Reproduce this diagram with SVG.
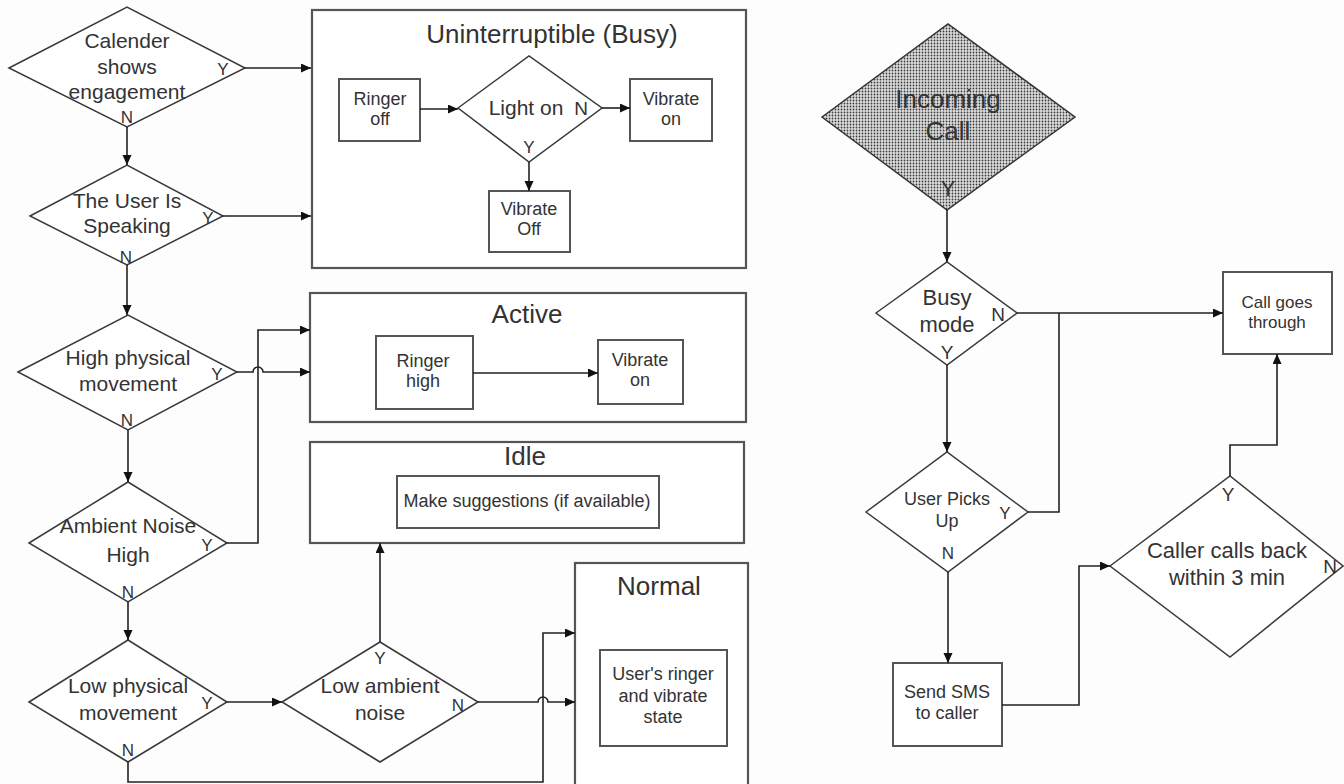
<svg xmlns="http://www.w3.org/2000/svg" width="1344" height="784" viewBox="0 0 1344 784">
  <style>
    text { font-family: "Liberation Sans", Arial, sans-serif; fill: #333; text-anchor: middle; }
    .dt { font-size: 21px; }
    .bt { font-size: 18px; }
    .title { font-size: 26px; }
    .yn { font-size: 17px; }
    .dia { fill: #fff; stroke: #3a3a3a; stroke-width: 1.5; }
    .box { fill: #fff; stroke: #555; stroke-width: 2; }
    .state { fill: #fff; stroke: #555; stroke-width: 2.2; }
    .conn path { fill: none; stroke: #222; stroke-width: 1.6; }
    .arr { marker-end: url(#head); }
  </style>
  <defs>
    <marker id="head" markerUnits="userSpaceOnUse" markerWidth="11" markerHeight="10" refX="10" refY="4.5" orient="auto">
      <path d="M0,0 L10,4.5 L0,9 z" fill="#111"/>
    </marker>
    <pattern id="dots" width="3" height="3" patternUnits="userSpaceOnUse">
      <rect width="3" height="3" fill="#dedede"/>
      <circle cx="1.5" cy="1.5" r="0.9" fill="#3a3a3a"/>
    </pattern>
  </defs>
  <rect width="1344" height="784" fill="#fdfdfd"/>

  <!-- state containers -->
  <g id="state-busy">
    <rect class="state" x="312" y="10" width="434" height="258"/>
    <text class="title" x="552" y="43">Uninterruptible (Busy)</text>
  </g>
  <g id="state-active">
    <rect class="state" x="310" y="293" width="436" height="129"/>
    <text class="title" x="527" y="323">Active</text>
  </g>
  <g id="state-idle">
    <rect class="state" x="310" y="442" width="434" height="101"/>
    <text class="title" x="525" y="465">Idle</text>
  </g>
  <g id="state-normal">
    <rect class="state" x="575" y="563" width="173" height="240"/>
    <text class="title" x="659" y="595">Normal</text>
  </g>

  <!-- actions inside the states -->
  <g id="ringer-off">
    <rect class="box" x="339" y="79" width="81" height="62"/>
    <text class="bt" x="380" y="105">Ringer</text>
    <text class="bt" x="380" y="125">off</text>
  </g>
  <g id="light-on">
    <polygon class="dia" points="458,108 529,56 602,108 529,162"/>
    <text class="dt" x="526" y="115">Light on</text>
    <text class="dt" x="581" y="115" style="font-size:19px">N</text>
    <text class="yn" x="529" y="153">Y</text>
  </g>
  <g id="vibrate-on-busy">
    <rect class="box" x="630" y="79" width="82" height="62"/>
    <text class="bt" x="671" y="105">Vibrate</text>
    <text class="bt" x="671" y="125">on</text>
  </g>
  <g id="vibrate-off">
    <rect class="box" x="489" y="191" width="81" height="61"/>
    <text class="bt" x="529" y="215">Vibrate</text>
    <text class="bt" x="529" y="235">Off</text>
  </g>
  <g id="ringer-high">
    <rect class="box" x="376" y="336" width="97" height="73"/>
    <text class="bt" x="423" y="367">Ringer</text>
    <text class="bt" x="423" y="387">high</text>
  </g>
  <g id="vibrate-on-active">
    <rect class="box" x="598" y="340" width="85" height="64"/>
    <text class="bt" x="640" y="366">Vibrate</text>
    <text class="bt" x="640" y="386">on</text>
  </g>
  <g id="suggestions">
    <rect class="box" x="397" y="476" width="262" height="52"/>
    <text class="bt" x="527" y="507">Make suggestions (if available)</text>
  </g>
  <g id="user-state">
    <rect class="box" x="600" y="650" width="127" height="96"/>
    <text class="bt" x="663" y="680">User's ringer</text>
    <text class="bt" x="663" y="702">and vibrate</text>
    <text class="bt" x="663" y="723">state</text>
  </g>

  <!-- context decisions -->
  <g id="calendar">
    <polygon class="dia" points="9,68 127,7 245,68 127,127"/>
    <text class="dt" x="127" y="48">Calender</text>
    <text class="dt" x="127" y="74">shows</text>
    <text class="dt" x="127" y="99">engagement</text>
    <text class="yn" x="223" y="75">Y</text>
    <text class="yn" x="127" y="123">N</text>
  </g>
  <g id="speaking">
    <polygon class="dia" points="30,216 127,165 223,216 127,265"/>
    <text class="dt" x="127" y="208">The User Is</text>
    <text class="dt" x="127" y="233">Speaking</text>
    <text class="yn" x="208" y="224">Y</text>
    <text class="yn" x="126" y="263">N</text>
  </g>
  <g id="high-movement">
    <polygon class="dia" points="18,372 128,315 237,372 128,430"/>
    <text class="dt" x="128" y="365">High physical</text>
    <text class="dt" x="128" y="391">movement</text>
    <text class="yn" x="217" y="380">Y</text>
    <text class="yn" x="127" y="426">N</text>
  </g>
  <g id="ambient-high">
    <polygon class="dia" points="29,543 128,482 227,543 128,602"/>
    <text class="dt" x="128" y="533">Ambient Noise</text>
    <text class="dt" x="128" y="562">High</text>
    <text class="yn" x="207" y="551">Y</text>
    <text class="yn" x="128" y="598">N</text>
  </g>
  <g id="low-movement">
    <polygon class="dia" points="29,702 128,640 227,702 128,762"/>
    <text class="dt" x="128" y="693">Low physical</text>
    <text class="dt" x="128" y="720">movement</text>
    <text class="yn" x="207" y="709">Y</text>
    <text class="yn" x="128" y="756">N</text>
  </g>
  <g id="low-ambient">
    <polygon class="dia" points="282,702 380,642 478,702 380,762"/>
    <text class="dt" x="380" y="693">Low ambient</text>
    <text class="dt" x="380" y="720">noise</text>
    <text class="yn" x="380" y="664">Y</text>
    <text class="yn" x="458" y="711">N</text>
  </g>

  <!-- incoming call handling -->
  <g id="incoming-call">
    <polygon points="822,117 948,24 1075,117 947,210" fill="url(#dots)" stroke="#333" stroke-width="1.5"/>
    <text x="948" y="108" style="font-size:26px" fill="#222">Incoming</text>
    <text x="948" y="140" style="font-size:26px" fill="#222">Call</text>
    <text x="948" y="196" style="font-size:22px" fill="#222">Y</text>
  </g>
  <g id="busy-mode">
    <polygon class="dia" points="876,313 947,262 1017,313 947,365"/>
    <text x="947" y="305" style="font-size:22px">Busy</text>
    <text x="947" y="332" style="font-size:22px">mode</text>
    <text class="yn" x="947" y="359" style="font-size:19px">Y</text>
    <text class="yn" x="998" y="321" style="font-size:19px">N</text>
  </g>
  <g id="call-goes-through">
    <rect class="box" x="1223" y="272" width="109" height="82"/>
    <text x="1277" y="308" style="font-size:17px">Call goes</text>
    <text x="1277" y="328" style="font-size:17px">through</text>
  </g>
  <g id="user-picks-up">
    <polygon class="dia" points="866,512 947,452 1028,512 948,572"/>
    <text class="bt" x="947" y="505">User Picks</text>
    <text class="bt" x="947" y="527">Up</text>
    <text class="yn" x="1005" y="519">Y</text>
    <text class="yn" x="948" y="559">N</text>
  </g>
  <g id="send-sms">
    <rect class="box" x="893" y="663" width="109" height="83"/>
    <text class="bt" x="947" y="698">Send SMS</text>
    <text class="bt" x="947" y="719">to caller</text>
  </g>
  <g id="caller-calls-back">
    <polygon class="dia" points="1110,566 1230,476 1343,566 1230,657"/>
    <text x="1227" y="558" style="font-size:22px">Caller calls back</text>
    <text x="1227" y="585" style="font-size:22px">within 3 min</text>
    <text class="yn" x="1228" y="501" style="font-size:19px">Y</text>
    <text class="yn" x="1330" y="573" style="font-size:19px">N</text>
  </g>

  <!-- connectors -->
  <g id="connectors" class="conn">
    <path class="arr" d="M245,68 H311"/>
    <path class="arr" d="M127,127 V165"/>
    <path class="arr" d="M223,216 H311"/>
    <path class="arr" d="M127,265 V315"/>
    <path class="arr" d="M237,372 H253 A5,5 0 0 1 263,372 H310"/>
    <path class="arr" d="M227,543 H258 V330 H310"/>
    <path class="arr" d="M128,430 V482"/>
    <path class="arr" d="M128,602 V640"/>
    <path class="arr" d="M227,702 H282"/>
    <path class="arr" d="M128,762 V782 H543 V633 H575"/>
    <path class="arr" d="M380,642 V543"/>
    <path class="arr" d="M478,702 H538 A5,5 0 0 1 548,702 H575"/>
    <path class="arr" d="M420,109 H458"/>
    <path class="arr" d="M602,108 H630"/>
    <path class="arr" d="M529,162 V191"/>
    <path class="arr" d="M473,373 H598"/>
    <path class="arr" d="M947,210 V262"/>
    <path class="arr" d="M1017,313 H1223"/>
    <path d="M1028,512 H1059 V313"/>
    <path class="arr" d="M947,365 V452"/>
    <path class="arr" d="M948,572 V663"/>
    <path class="arr" d="M1002,705 H1079 V566 H1110"/>
    <path class="arr" d="M1230,476 V445 H1277 V354"/>
  </g>
</svg>
